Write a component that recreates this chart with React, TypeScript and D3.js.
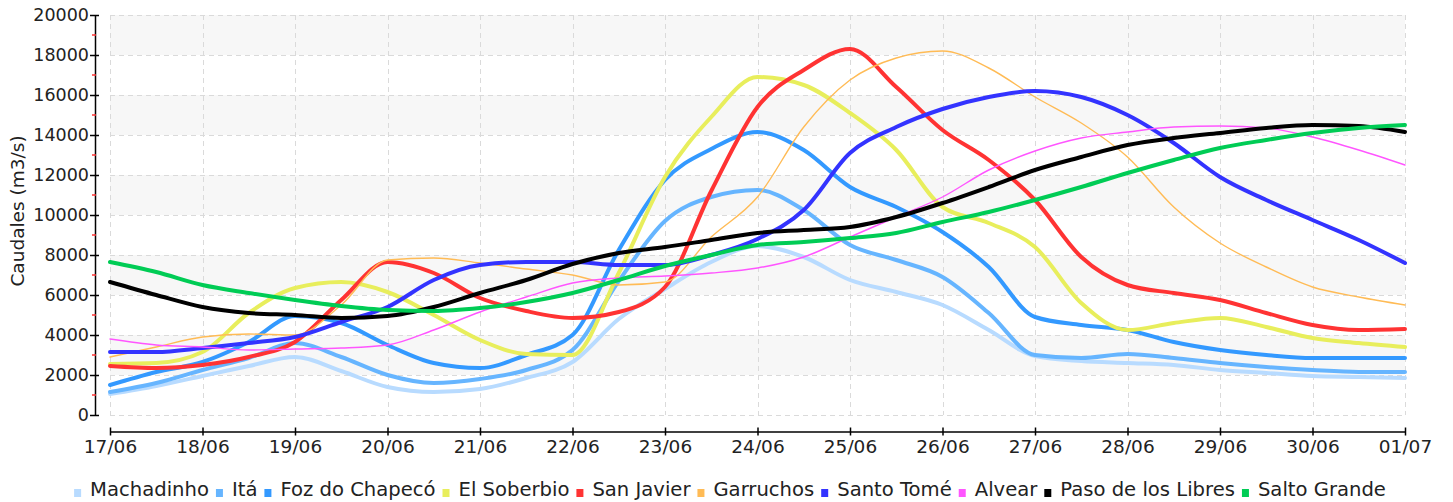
import { useEffect, useRef } from 'react'
import * as d3 from 'd3'

const W = 1453
const H = 502
const PLOT = { left: 110, right: 1405, top: 15, bottom: 415 }
const AXIS_Y_X = 95
const AXIS_X_Y = 431.5
const FONT = '"DejaVu Sans", Verdana, sans-serif'

// half-day samples, 17/06 00h .. 01/07 00h
const START = new Date(2024, 5, 17)
const END = new Date(2024, 6, 1)
const TIMES = d3.timeHour.every(12)!.range(START, d3.timeHour.offset(END, 1))

const Y_TICKS = [0, 2000, 4000, 6000, 8000, 10000, 12000, 14000, 16000, 18000, 20000]
const Y_MINOR = [1000, 3000, 5000, 7000, 9000, 11000, 13000, 15000, 17000, 19000]
const Y_TITLE = 'Caudales (m3/s)'

const MACHADINHO = [1050, 1450, 1950, 2450, 2900, 2200, 1400, 1150, 1300, 1850, 2650, 4800, 6300, 7650, 8450, 7900, 6750, 6150, 5500, 4250, 2950, 2700, 2600, 2500, 2250, 2100, 1950, 1900, 1850]
const ITA = [1150, 1600, 2250, 2850, 3600, 2900, 2000, 1600, 1800, 2250, 3250, 6700, 9700, 10900, 11250, 10250, 8500, 7750, 6900, 5100, 3000, 2850, 3050, 2850, 2600, 2400, 2250, 2150, 2150]
const FOZ_DO_CHAPECO = [1500, 2150, 2650, 3650, 4950, 4600, 3500, 2600, 2350, 3000, 4000, 8250, 11750, 13300, 14150, 13250, 11400, 10400, 9150, 7400, 4900, 4500, 4250, 3650, 3250, 3000, 2850, 2850, 2850]
const EL_SOBERBIO = [2550, 2600, 3150, 5100, 6350, 6650, 6150, 5000, 3750, 3050, 3000, 7100, 11900, 14900, 16900, 16500, 15100, 13250, 10400, 9600, 8400, 5600, 4250, 4600, 4850, 4400, 3850, 3600, 3400]
const SAN_JAVIER = [2450, 2350, 2500, 2900, 3650, 5750, 7650, 7100, 5850, 5200, 4850, 5150, 6400, 11200, 15400, 17250, 18300, 16400, 14250, 12750, 10750, 7900, 6500, 6100, 5750, 5100, 4500, 4250, 4300]
const GARRUCHOS = [2900, 3400, 3900, 4050, 4000, 5500, 7750, 7850, 7600, 7300, 7000, 6500, 6650, 8900, 10900, 14400, 16750, 17850, 18200, 17350, 15900, 14600, 12900, 10400, 8600, 7400, 6400, 5900, 5500]
const SANTO_TOME = [3150, 3150, 3350, 3600, 3900, 4650, 5400, 6750, 7500, 7650, 7650, 7500, 7500, 8000, 8800, 10250, 13100, 14400, 15300, 15900, 16200, 15900, 15000, 13600, 11900, 10750, 9750, 8750, 7600]
const ALVEAR = [3800, 3500, 3400, 3250, 3300, 3350, 3500, 4250, 5150, 5900, 6600, 6850, 6950, 7100, 7350, 7900, 8900, 9900, 10900, 12250, 13200, 13850, 14150, 14400, 14450, 14350, 13900, 13250, 12500]
const PASO_DE_LOS_LIBRES = [6650, 6000, 5400, 5100, 5000, 4850, 4950, 5400, 6100, 6750, 7550, 8100, 8400, 8750, 9100, 9250, 9400, 9900, 10600, 11400, 12250, 12900, 13500, 13850, 14100, 14350, 14500, 14450, 14150]
const SALTO_GRANDE = [7650, 7150, 6500, 6100, 5750, 5450, 5250, 5200, 5350, 5650, 6100, 6750, 7450, 8000, 8500, 8650, 8850, 9100, 9650, 10150, 10750, 11400, 12100, 12750, 13350, 13750, 14100, 14350, 14500]

const SERIES = [
  { name: 'Machadinho',         color: '#B8DBFF', width: 4,   values: MACHADINHO },
  { name: 'Itá',                color: '#66B5FF', width: 4,   values: ITA },
  { name: 'Foz do Chapecó',     color: '#3399FF', width: 4,   values: FOZ_DO_CHAPECO },
  { name: 'El Soberbio',        color: '#E8EE5C', width: 4,   values: EL_SOBERBIO },
  { name: 'San Javier',         color: '#FF3333', width: 4,   values: SAN_JAVIER },
  { name: 'Garruchos',          color: '#FFBB55', width: 1.4, values: GARRUCHOS },
  { name: 'Santo Tomé',         color: '#3333FF', width: 4,   values: SANTO_TOME },
  { name: 'Alvear',             color: '#FF55FF', width: 1.4, values: ALVEAR },
  { name: 'Paso de los Libres', color: '#000000', width: 4,   values: PASO_DE_LOS_LIBRES },
  { name: 'Salto Grande',       color: '#00CC55', width: 4,   values: SALTO_GRANDE },
]

export default function App() {
  const svgRef = useRef<SVGSVGElement>(null)

  useEffect(() => {
    const svgEl = svgRef.current
    if (!svgEl) return
    const svg = d3.select(svgEl)
    svg.selectAll('*').remove()

    const x = d3.scaleTime([START, END], [PLOT.left, PLOT.right])
    const y = d3.scaleLinear([0, 20000], [PLOT.bottom, PLOT.top])
    const days = d3.timeDay.range(START, d3.timeDay.offset(END, 1))

    // ── Alternating bands ──────────────────────────────────────────────────────
    Y_TICKS.slice(0, -1).forEach((v, i) => {
      if (i % 2 === 0) return
      svg.append('rect')
        .attr('x', PLOT.left).attr('y', y(Y_TICKS[i + 1]))
        .attr('width', PLOT.right - PLOT.left).attr('height', y(v) - y(Y_TICKS[i + 1]))
        .attr('fill', '#F7F7F7')
    })

    // ── Dashed grid ────────────────────────────────────────────────────────────
    const grid = svg.append('g').attr('stroke', '#DADADA').attr('stroke-width', 1).attr('stroke-dasharray', '5,4')
    Y_TICKS.forEach(v => {
      grid.append('line')
        .attr('x1', PLOT.left).attr('x2', PLOT.right)
        .attr('y1', Math.round(y(v)) + 0.5).attr('y2', Math.round(y(v)) + 0.5)
    })
    days.forEach(d => {
      grid.append('line')
        .attr('x1', Math.round(x(d)) + 0.5).attr('x2', Math.round(x(d)) + 0.5)
        .attr('y1', PLOT.top).attr('y2', PLOT.bottom)
    })

    // ── Axes ───────────────────────────────────────────────────────────────────
    svg.append('g')
      .attr('transform', `translate(${AXIS_Y_X},0)`)
      .call(d3.axisLeft(y).tickValues(Y_TICKS).tickFormat(d => String(d)).tickSizeOuter(0).tickSizeInner(5).tickPadding(1))
      .call(ag => ag.select('.domain').attr('stroke', '#000').attr('stroke-width', 1.5))
      .call(ag => ag.selectAll('.tick line').attr('x1', 4).attr('x2', -5).attr('stroke', '#000').attr('stroke-width', 1.5))
      .call(ag => ag.selectAll('text').attr('font-size', 17.5).attr('font-family', FONT).attr('fill', '#222'))

    svg.append('g')
      .selectAll('line')
      .data(Y_MINOR)
      .join('line')
      .attr('x1', AXIS_Y_X - 3).attr('x2', AXIS_Y_X + 1)
      .attr('y1', d => y(d)).attr('y2', d => y(d))
      .attr('stroke', '#FF3333').attr('stroke-width', 1.5)

    svg.append('g')
      .attr('transform', `translate(0,${AXIS_X_Y})`)
      .call(d3.axisBottom(x).tickValues(days).tickFormat(d => d3.timeFormat('%d/%m')(d as Date)).tickSizeOuter(0).tickSizeInner(4))
      .call(ag => ag.select('.domain').attr('stroke', '#000').attr('stroke-width', 1.5))
      .call(ag => ag.selectAll('.tick line').attr('y1', -4).attr('y2', 4).attr('stroke', '#000').attr('stroke-width', 1.5))
      .call(ag => ag.selectAll('text').attr('y', 21.5).attr('dy', 0)
        .attr('font-size', 18.5).attr('font-family', FONT).attr('fill', '#222'))

    svg.append('text')
      .attr('transform', `translate(24,211) rotate(-90)`)
      .attr('text-anchor', 'middle')
      .attr('font-size', 18.5).attr('font-family', FONT).attr('fill', '#222')
      .text(Y_TITLE)

    // ── Series lines ───────────────────────────────────────────────────────────
    const line = d3.line<number>()
      .x((_, i) => x(TIMES[i]))
      .y(d => y(d))
      .curve(d3.curveMonotoneX)

    SERIES.forEach(s => {
      svg.append('path')
        .datum(s.values)
        .attr('d', line)
        .attr('fill', 'none')
        .attr('stroke', s.color)
        .attr('stroke-width', s.width)
        .attr('stroke-linejoin', 'round')
        .attr('stroke-linecap', 'round')
    })

    // ── Legend (centered, bottom) ──────────────────────────────────────────────
    const legend = svg.append('g')
    let cx = 0
    SERIES.forEach(s => {
      legend.append('rect')
        .attr('x', cx).attr('y', 489).attr('width', 7).attr('height', 8)
        .attr('fill', s.color)
      const t = legend.append('text')
        .attr('x', cx + 16).attr('y', 496)
        .attr('font-size', 19.6).attr('font-family', FONT).attr('fill', '#222')
        .text(s.name)
      cx += 16 + (t.node() as SVGTextElement).getComputedTextLength() + 7
    })
    legend.attr('transform', `translate(${730 - (cx - 7) / 2},0)`)
  }, [])

  return (
    <svg
      ref={svgRef}
      width={W}
      height={H}
      style={{ position: 'absolute', left: 0, top: 0, background: '#fff' }}
    />
  )
}
